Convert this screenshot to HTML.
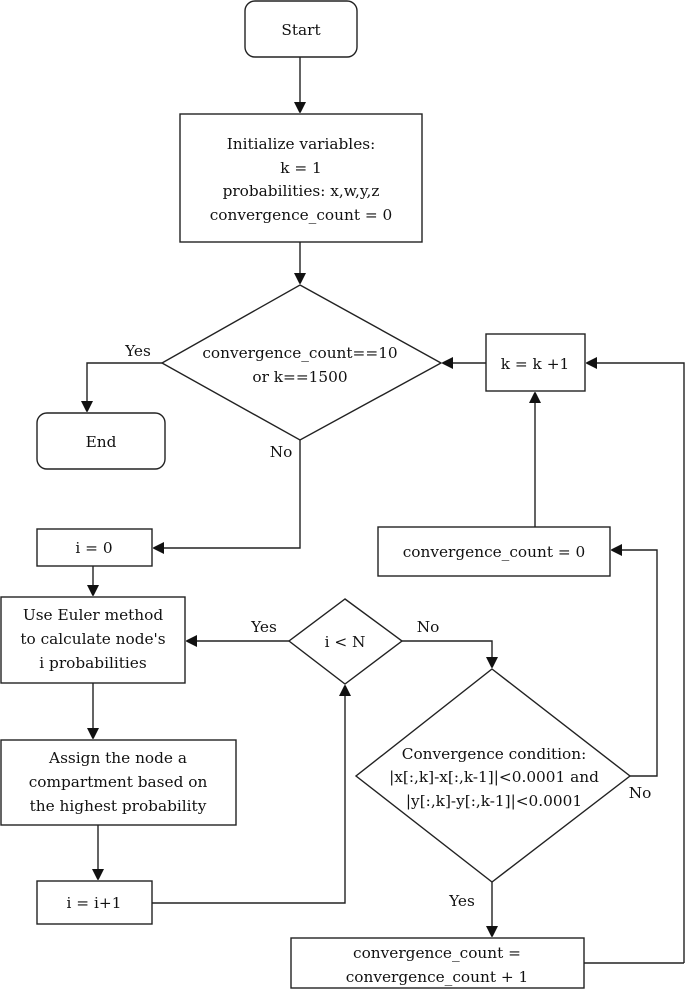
<!DOCTYPE html>
<html><head><meta charset="utf-8"><style>
html,body{margin:0;padding:0;background:#fff}
svg{display:block}
text{font-family:"DejaVu Serif","Liberation Serif",serif;font-size:15.3px;fill:#111;text-anchor:middle}
.s{fill:#fff;stroke:#222;stroke-width:1.4}
.l{fill:none;stroke:#222;stroke-width:1.4}
</style></head><body>
<svg width="685" height="990" viewBox="0 0 685 990" xmlns="http://www.w3.org/2000/svg">
<defs><marker id="a" markerWidth="10" markerHeight="12" refX="11" refY="6" orient="auto" markerUnits="userSpaceOnUse"><path d="M0,0 L12,6 L0,12 z" fill="#111"/></marker></defs>

<rect class="s" x="245" y="1" width="112" height="56" rx="10"/>
<text x="301" y="35">Start</text>
<path class="l" d="M300,57 V113" marker-end="url(#a)"/>

<rect class="s" x="180" y="114" width="242" height="128"/>
<text x="301" y="149">Initialize variables:</text>
<text x="301" y="173">k = 1</text>
<text x="301" y="196">probabilities: x,w,y,z</text>
<text x="301" y="220">convergence_count = 0</text>
<path class="l" d="M300,242 V284" marker-end="url(#a)"/>

<polygon class="s" points="300,285 441,363 300,440 162,363"/>
<text x="300" y="358">convergence_count==10</text>
<text x="300" y="382">or k==1500</text>
<text x="138" y="356">Yes</text>
<path class="l" d="M162,363 H87 V412" marker-end="url(#a)"/>
<rect class="s" x="37" y="413" width="128" height="56" rx="10"/>
<text x="101" y="447">End</text>
<text x="281" y="457">No</text>
<path class="l" d="M300,440 V548 H153" marker-end="url(#a)"/>

<rect class="s" x="486" y="334" width="99" height="57"/>
<text x="535" y="369">k = k +1</text>
<path class="l" d="M486,363 H442" marker-end="url(#a)"/>
<path class="l" d="M684,963 V363 H586" marker-end="url(#a)"/>

<rect class="s" x="37" y="529" width="115" height="37"/>
<text x="94" y="553">i = 0</text>
<path class="l" d="M93,566 V596" marker-end="url(#a)"/>

<rect class="s" x="1" y="597" width="184" height="86"/>
<text x="93" y="620">Use Euler method</text>
<text x="93" y="644">to calculate node's</text>
<text x="93" y="668">i probabilities</text>
<path class="l" d="M93,683 V739" marker-end="url(#a)"/>

<rect class="s" x="1" y="740" width="235" height="85"/>
<text x="118" y="763">Assign the node a</text>
<text x="118" y="787">compartment based on</text>
<text x="118" y="811">the highest probability</text>
<path class="l" d="M98,825 V880" marker-end="url(#a)"/>

<rect class="s" x="37" y="881" width="115" height="43"/>
<text x="94" y="908">i = i+1</text>
<path class="l" d="M152,903 H345 V685" marker-end="url(#a)"/>

<polygon class="s" points="345,599 402,641 345,684 289,641"/>
<text x="345" y="647">i &lt; N</text>
<text x="264" y="632">Yes</text>
<path class="l" d="M289,641 H186" marker-end="url(#a)"/>
<text x="428" y="632">No</text>
<path class="l" d="M402,641 H492 V668" marker-end="url(#a)"/>

<polygon class="s" points="492,669 630,776 492,882 356,776"/>
<text x="494" y="759">Convergence condition:</text>
<text x="494" y="782">|x[:,k]-x[:,k-1]|&lt;0.0001 and</text>
<text x="494" y="806">|y[:,k]-y[:,k-1]|&lt;0.0001</text>
<text x="640" y="798">No</text>
<path class="l" d="M630,776 H657 V550 H611" marker-end="url(#a)"/>

<rect class="s" x="378" y="527" width="232" height="49"/>
<text x="494" y="557">convergence_count = 0</text>
<path class="l" d="M535,527 V392" marker-end="url(#a)"/>

<text x="462" y="906">Yes</text>
<path class="l" d="M492,882 V937" marker-end="url(#a)"/>
<rect class="s" x="291" y="938" width="293" height="50"/>
<text x="437" y="958">convergence_count =</text>
<text x="437" y="982">convergence_count + 1</text>
<path class="l" d="M584,963 H684"/>
</svg>
</body></html>
